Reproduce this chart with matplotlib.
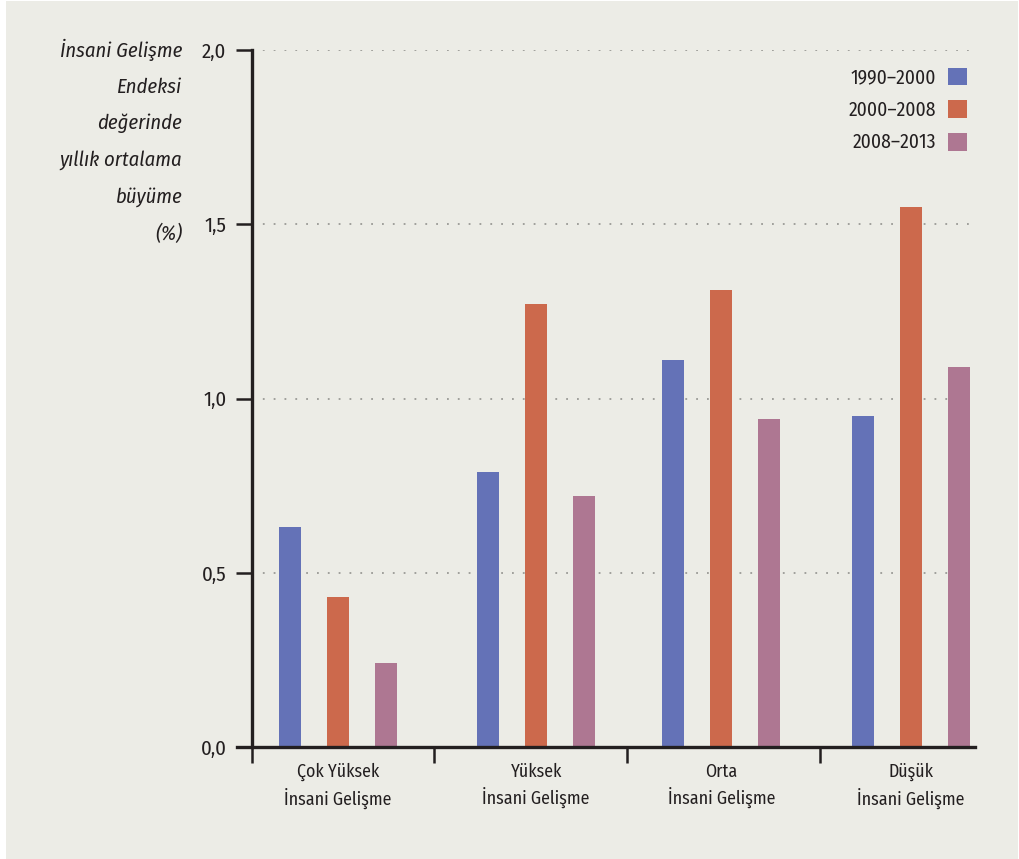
import numpy as np
import matplotlib
matplotlib.use("Agg")
import matplotlib.pyplot as plt
from matplotlib.patches import Rectangle

# data
categories = ["Çok Yüksek\nİnsani Gelişme", "Yüksek\nİnsani Gelişme",
              "Orta\nİnsani Gelişme", "Düşük\nİnsani Gelişme"]
periods = ["1990–2000", "2000–2008", "2008–2013"]
growth_1990_2000 = [0.63, 0.79, 1.11, 0.95]
growth_2000_2008 = [0.43, 1.27, 1.31, 1.55]
growth_2008_2013 = [0.24, 0.72, 0.94, 1.09]
y_ticks = [0.0, 0.5, 1.0, 1.5, 2.0]
y_tick_labels = ["0,0", "0,5", "1,0", "1,5", "2,0"]

colors = ["#6472b7", "#cc694c", "#ae7792"]
bg = "#ecece6"
ink = "#231f20"

plt.rcParams["font.family"] = ["Fira Sans Condensed", "PT Sans Narrow",
                               "Roboto Condensed", "DejaVu Sans"]

fig = plt.figure(figsize=(10.19, 8.59), dpi=100)
fig.patch.set_facecolor("white")
fig.patches.append(Rectangle((6 / 1019, 0), 1012 / 1019, 858 / 859,
                             transform=fig.transFigure, facecolor=bg,
                             edgecolor="none", zorder=-10))

ax = fig.add_axes([237 / 1019, 112 / 859, (975 - 237) / 1019, (809 - 112) / 859])
ax.set_facecolor("none")

# group centres (slightly uneven in the original layout)
x = np.array([0.0, 1.037, 2.007, 3.0])
offset = 0.251
width = 0.115
series = [growth_1990_2000, growth_2000_2008, growth_2008_2013]
for i, (vals, label) in enumerate(zip(series, periods)):
    ax.bar(x + (i - 1) * offset, vals, width=width, color=colors[i],
           label=label, zorder=3)

left_edge = -0.45
ax.set_xlim(-0.529, 3.335)
ax.set_ylim(0, 2.0)

# dotted guide lines
ax.hlines(y_ticks[1:], left_edge, 3.335, colors="#9a9a96",
          linestyles=(0, (1, 5)), linewidth=1.3, zorder=1)

for s in ["top", "right"]:
    ax.spines[s].set_visible(False)
ax.spines["left"].set_position(("data", left_edge))
for s in ["left", "bottom"]:
    ax.spines[s].set_linewidth(2.4)
    ax.spines[s].set_color(ink)
    ax.spines[s].set_zorder(4)

ax.set_yticks(y_ticks)
ax.set_yticklabels(y_tick_labels)
ax.tick_params(axis="y", length=11.5, width=1.8, color=ink, pad=7,
               labelsize=15, labelcolor=ink)

# category boundary ticks on x axis, labels centred under groups
ax.set_xticks([left_edge, 0.503, 1.513, 2.524])
ax.set_xticklabels([])
ax.tick_params(axis="x", length=11.5, width=1.8, color=ink)
for xi, cat in zip(x, categories):
    ax.text(xi, -0.046, cat, ha="center", va="top", fontsize=12.8,
            color=ink, linespacing=1.36)

ax.legend(loc="upper right", bbox_to_anchor=(1.0, 0.986), frameon=False,
          markerfirst=False, fontsize=14, handlelength=1.0, handleheight=1.0,
          handletextpad=0.6, labelspacing=0.68, borderaxespad=0.0,
          labelcolor=ink)

fig.text(182 / 1019, 809 / 859 + 0.013,
         "İnsani Gelişme\nEndeksi\ndeğerinde\nyıllık ortalama\nbüyüme\n(%)",
         ha="right", va="top", fontsize=14.8, style="italic", color=ink,
         linespacing=2.07)

fig.savefig("out.png", dpi=100, facecolor=fig.get_facecolor())
